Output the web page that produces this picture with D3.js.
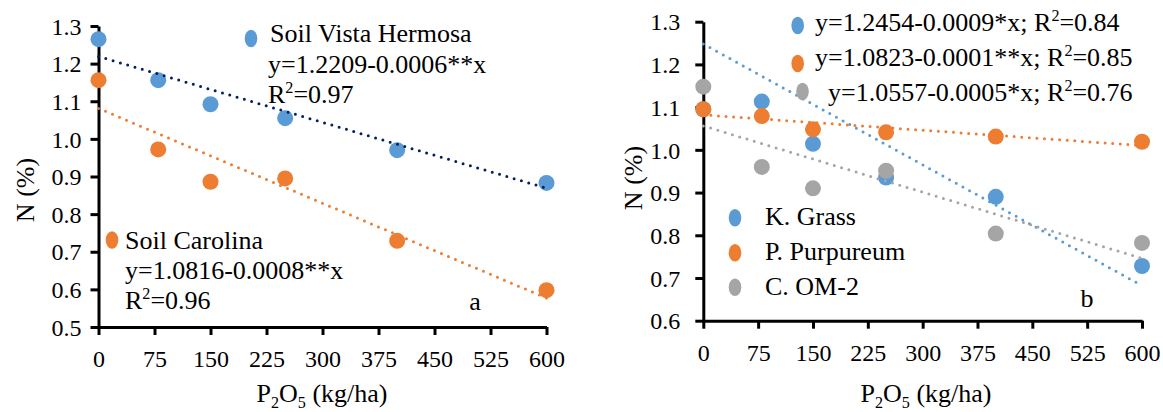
<!DOCTYPE html>
<html>
<head>
<meta charset="utf-8">
<script src="https://cdn.jsdelivr.net/npm/d3@7"></script>
<style>
  body { margin: 0; background: #fff; }
  svg { display: block; }
  text { font-family: "Liberation Serif", "Times New Roman", serif; }
</style>
</head>
<body>
<svg id="chart" width="1163" height="412"></svg>
<script>
// values
var doses = [0, 80, 150, 250, 400, 600];
var xTicks = [0, 75, 150, 225, 300, 375, 450, 525, 600];
var leftYTicks = [0.5, 0.6, 0.7, 0.8, 0.9, 1.0, 1.1, 1.2, 1.3];
var rightYTicks = [0.6, 0.7, 0.8, 0.9, 1.0, 1.1, 1.2, 1.3];

// panel a
var vistaHermosa = [1.265, 1.156, 1.092, 1.055, 0.970, 0.883];
var carolina = [1.156, 0.972, 0.886, 0.895, 0.729, 0.598];
var vistaTrend = [1.219, 0.869];   // value at x=0 and x=600
var carolinaTrend = [1.081, 0.577];

// panel b
var kGrass = [1.095, 1.113, 1.014, 0.935, 0.890, 0.728];
var pPurpureum = [1.095, 1.079, 1.048, 1.041, 1.031, 1.019];
var cOM2 = [1.148, 0.960, 0.910, 0.951, 0.804, 0.782];
var kGrassTrend = [1.248, 0.682];
var pPurpureumTrend = [1.082, 1.010];
var cOM2Trend = [1.056, 0.746];

var BLUE = "#5B9BD5", ORANGE = "#ED7D31", GRAY = "#A5A5A5", NAVY = "#002060";
var TICK_FONT = 24;
var FONT = 26;
var SERIF = "Liberation Serif, Times New Roman, serif";

var svg = d3.select("#chart");

function drawAxes(x, y, yTicks, yPad) {
    var xAxis = svg.append("g")
        .attr("transform", "translate(0," + y.range()[0] + ")")
        .call(d3.axisBottom(x).tickValues(xTicks).tickSize(8).tickSizeOuter(0).tickFormat(d3.format("d")));
    var yAxis = svg.append("g")
        .attr("transform", "translate(" + x.range()[0] + ",0)")
        .call(d3.axisLeft(y).tickValues(yTicks).tickSize(8).tickSizeOuter(0).tickPadding(yPad).tickFormat(d3.format(".1f")));

    [xAxis, yAxis].forEach(function(g) {
        g.attr("font-family", SERIF).attr("font-size", TICK_FONT);
        g.select(".domain").attr("stroke", "#000").attr("stroke-width", 3);
        g.selectAll(".tick line").attr("stroke", "#000").attr("stroke-width", 3);
        g.selectAll(".tick text").attr("fill", "#000");
    });
    xAxis.selectAll(".tick text").attr("dy", null).attr("y", 40);
    yAxis.selectAll(".tick text").attr("dy", "0.34em");
}

function drawPoints(x, y, vals, color) {
    svg.append("g").selectAll("circle")
        .data(vals)
        .enter()
        .append("circle")
        .attr("cx", function(d, i) { return x(doses[i]); })
        .attr("cy", function(d) { return y(d); })
        .attr("r", 8)
        .attr("fill", color);
}

function drawTrend(x, y, ends, color) {
    svg.append("line")
        .attr("x1", x(0)).attr("y1", y(ends[0]))
        .attr("x2", x(600)).attr("y2", y(ends[1]))
        .attr("stroke", color)
        .attr("stroke-width", 3)
        .attr("stroke-linecap", "round")
        .attr("stroke-dasharray", "0 7.6");
}

// text line with optional superscript / subscript parts: [["R"],["2","sup"],["=0.97","back",9]]
function richText(px, py, parts, anchor) {
    var t = svg.append("text")
        .attr("x", px).attr("y", py)
        .attr("font-size", FONT)
        .attr("fill", "#000")
        .attr("text-anchor", anchor || "start");
    parts.forEach(function(p) {
        var s = t.append("tspan").text(p[0]);
        if (p[1] === "sup") s.attr("font-size", FONT * 0.62).attr("dy", -10);
        if (p[1] === "sub") s.attr("font-size", FONT * 0.62).attr("dy", 6);
        if (p[1] === "back") s.attr("dy", p[2]);
    });
    return t;
}

function legendMark(px, py, color) {
    svg.append("ellipse")
        .attr("cx", px).attr("cy", py)
        .attr("rx", 6.3).attr("ry", 8.8)
        .attr("fill", color);
}

function xTitle(cx, by) {
    richText(cx, by, [["P"], ["2", "sub"], ["O", "back", -6], ["5", "sub"], [" (kg/ha)", "back", -6]], "middle");
}

function yTitle(cx, cy) {
    svg.append("text")
        .attr("transform", "translate(" + cx + "," + cy + ") rotate(-90)")
        .attr("text-anchor", "middle")
        .attr("dy", "0.34em")
        .attr("font-size", FONT)
        .text("N (%)");
}

// ---- panel a ----
var xa = d3.scaleLinear().domain([0, 600]).range([98.5, 546.5]);
var ya = d3.scaleLinear().domain([0.5, 1.3]).range([327, 26]);

drawAxes(xa, ya, leftYTicks, 9);
drawPoints(xa, ya, vistaHermosa, BLUE);
drawPoints(xa, ya, carolina, ORANGE);
drawTrend(xa, ya, vistaTrend, NAVY);
drawTrend(xa, ya, carolinaTrend, ORANGE);

legendMark(251, 38.5, BLUE);
richText(270, 42, [["Soil Vista Hermosa"]]);
richText(268, 73, [["y=1.2209-0.0006**x"]]);
richText(268, 103, [["R"], ["2", "sup"], ["=0.97", "back", 10]]);

legendMark(112, 240, ORANGE);
richText(125, 249, [["Soil Carolina"]]);
richText(125, 279, [["y=1.0816-0.0008**x"]]);
richText(125, 309, [["R"], ["2", "sup"], ["=0.96", "back", 10]]);

richText(475, 310, [["a"]], "middle");
xTitle(322, 402);
yTitle(25, 190);

// ---- panel b ----
var xb = d3.scaleLinear().domain([0, 600]).range([703.3, 1142]);
var yb = d3.scaleLinear().domain([0.6, 1.3]).range([320.7, 21.7]);

drawAxes(xb, yb, rightYTicks, 15);
drawPoints(xb, yb, kGrass, BLUE);
drawPoints(xb, yb, pPurpureum, ORANGE);
drawPoints(xb, yb, cOM2, GRAY);
drawTrend(xb, yb, kGrassTrend, BLUE);
drawTrend(xb, yb, pPurpureumTrend, ORANGE);
drawTrend(xb, yb, cOM2Trend, GRAY);

legendMark(797.7, 25.5, BLUE);
richText(815, 31, [["y=1.2454-0.0009*x; R"], ["2", "sup"], ["=0.84", "back", 10]]);
legendMark(797.7, 63.5, ORANGE);
richText(815, 66, [["y=1.0823-0.0001**x; R"], ["2", "sup"], ["=0.85", "back", 10]]);
legendMark(802.5, 91.5, GRAY);
richText(828, 101, [["y=1.0557-0.0005*x; R"], ["2", "sup"], ["=0.76", "back", 10]]);

legendMark(735, 217.7, BLUE);
richText(765, 225, [["K. Grass"]]);
legendMark(735, 252.7, ORANGE);
richText(765, 260, [["P. Purpureum"]]);
legendMark(735, 287.3, GRAY);
richText(765, 294.5, [["C. OM-2"]]);

richText(1087, 307, [["b"]], "middle");
xTitle(926, 402);
yTitle(633, 178);
</script>
</body>
</html>
